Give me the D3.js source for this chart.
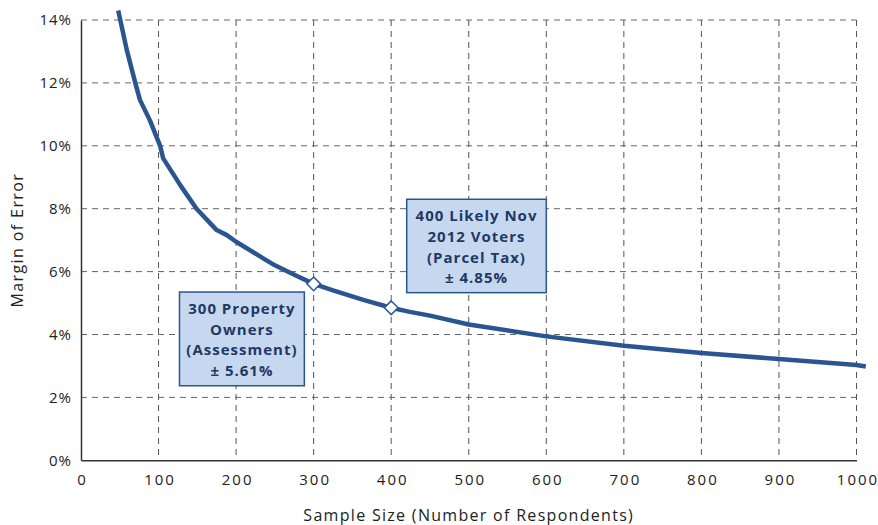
<!DOCTYPE html>
<html>
<head>
<meta charset="utf-8">
<script src="https://cdn.jsdelivr.net/npm/d3@7"></script>
<style>
  body { margin: 0; background: #fff; }
  svg text { font-family: 'Open Sans', 'DejaVu Sans', sans-serif; }
</style>
</head>
<body>
<div id="chart"></div>
<script>
// sample size vs margin of error (%)
var sample_sizes = [48, 59, 70, 76, 89, 102, 106, 128, 149, 175, 188, 200, 235, 250, 275, 300, 325, 364, 400, 424, 450, 500, 600, 700, 800, 900, 1000, 1012]
var margins = [14.3, 13.05, 12.0, 11.46, 10.8, 10.0, 9.6, 8.75, 8.0, 7.32, 7.16, 6.95, 6.42, 6.2, 5.9, 5.61, 5.4, 5.1, 4.85, 4.72, 4.6, 4.32, 3.94, 3.64, 3.41, 3.22, 3.03, 2.98]
var x_ticks = [0, 100, 200, 300, 400, 500, 600, 700, 800, 900, 1000]
var y_ticks = [0, 2, 4, 6, 8, 10, 12, 14]

var marker_sizes = [300, 400]
var marker_values = [5.61, 4.85]
var note_lines = [
  ['300 Property', 'Owners', '(Assessment)', '\u00b1 5.61%'],
  ['400 Likely Nov', '2012 Voters', '(Parcel Tax)', '\u00b1 4.85%']
]
// box corners in data units: [x0, x1, y_top, y_bottom]
var note_boxes = [
  [127, 288, 5.35, 2.37],
  [420, 600, 8.3, 5.33]
]

var w = 878
var h = 525
var blue = '#2b5591'
var ink = '#1f3864'

var svg = d3.select('#chart').append('svg')
  .attr('width', w)
  .attr('height', h)

var x = d3.scaleLinear().domain([0, 1000]).range([81, 856.5])
var y = d3.scaleLinear().domain([0, 14]).range([460.3, 20])

// grid
var grid = svg.append('g')
grid.selectAll('line.v').data(x_ticks.filter(function (d) { return d > 0 }))
  .enter().append('line')
  .attr('x1', function (d) { return x(d) }).attr('x2', function (d) { return x(d) })
  .attr('y1', y(14)).attr('y2', y(0))
  .attr('stroke', '#555').attr('stroke-width', 1).attr('stroke-dasharray', '6,5')
grid.selectAll('line.h').data(y_ticks.filter(function (d) { return d > 0 }))
  .enter().append('line')
  .attr('x1', x(0)).attr('x2', x(1000))
  .attr('y1', function (d) { return y(d) }).attr('y2', function (d) { return y(d) })
  .attr('stroke', '#666').attr('stroke-width', 1).attr('stroke-dasharray', '6,5')

// axes
var x_axis = svg.append('g')
  .attr('transform', 'translate(0,' + y(0) + ')')
  .call(d3.axisBottom(x).tickValues(x_ticks).tickSize(0).tickPadding(14).tickFormat(d3.format('d')))
x_axis.select('.domain').attr('stroke', '#333').attr('stroke-width', 1.5)
x_axis.selectAll('text').style('font-size', '15px').style('letter-spacing', '2px').attr('dx', '1px').attr('fill', '#222')

var y_axis = svg.append('g')
  .attr('transform', 'translate(' + x(0) + ',0)')
  .call(d3.axisLeft(y).tickValues(y_ticks).tickSize(0).tickPadding(9).tickFormat(function (d) { return d + '%' }))
y_axis.select('.domain').attr('stroke', '#333').attr('stroke-width', 1.5)
y_axis.selectAll('text').style('font-size', '15px').style('letter-spacing', '1px').attr('fill', '#222')

svg.append('text').text('Sample Size (Number of Respondents)')
  .attr('x', (x(0) + x(1000)) / 2).attr('y', 521)
  .attr('text-anchor', 'middle')
  .style('font-size', '16px').style('letter-spacing', '1.3px')
  .attr('fill', '#222')

svg.append('text').text('Margin of Error')
  .attr('transform', 'translate(23,' + ((y(0) + y(14)) / 2) + ') rotate(-90)')
  .attr('text-anchor', 'middle')
  .style('font-size', '16px').style('letter-spacing', '1.4px')
  .attr('fill', '#222')

// curve
var pts = sample_sizes.map(function (n, i) { return [n, margins[i]] })
svg.append('path')
  .datum(pts)
  .attr('d', d3.line().x(function (d) { return x(d[0]) }).y(function (d) { return y(d[1]) }))
  .attr('fill', 'none')
  .attr('stroke', blue)
  .attr('stroke-width', 4.5)
  .attr('stroke-linejoin', 'round')

// note boxes
note_boxes.forEach(function (b, idx) {
  var g = svg.append('g')
  g.append('rect')
    .attr('x', x(b[0])).attr('y', y(b[2]))
    .attr('width', x(b[1]) - x(b[0])).attr('height', y(b[3]) - y(b[2]))
    .attr('fill', '#c6d8ef').attr('stroke', blue).attr('stroke-width', 1.5)
  var cx = (x(b[0]) + x(b[1])) / 2
  note_lines[idx].forEach(function (line, j) {
    g.append('text').text(line)
      .attr('x', cx)
      .attr('y', y(b[2]) + 22 + j * 20.7)
      .attr('text-anchor', 'middle')
      .attr('fill', ink)
      .style('font-size', '15px')
      .style('font-weight', 'bold')
      .style('letter-spacing', '1px')
  })
})

// markers
marker_sizes.forEach(function (n, i) {
  svg.append('path')
    .attr('d', d3.symbol().type(d3.symbolDiamond2).size(120)())
    .attr('transform', 'translate(' + x(n) + ',' + y(marker_values[i]) + ')')
    .attr('fill', '#fff')
    .attr('stroke', blue)
    .attr('stroke-width', 1.5)
})
</script>
</body>
</html>
